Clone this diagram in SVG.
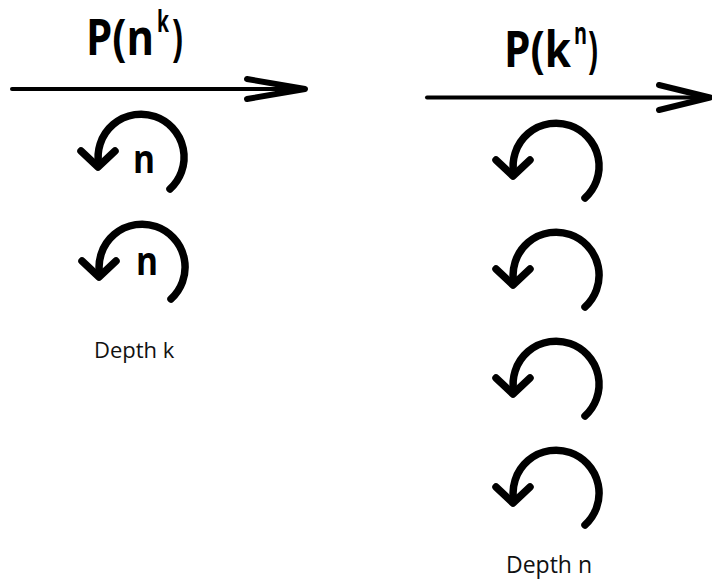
<svg xmlns="http://www.w3.org/2000/svg" width="712" height="581" viewBox="0 0 712 581">
  <style>
    .title { font-family: "Open Sans", "Liberation Sans", sans-serif; font-weight: bold; font-size: 50px; fill: #000; }
    .sup { font-family: "Open Sans", "Liberation Sans", sans-serif; font-weight: bold; font-size: 30px; fill: #000; }
    .count { font-family: "Open Sans", "Liberation Sans", sans-serif; font-weight: bold; font-size: 39px; fill: #000; }
    .caption { font-family: "Open Sans", "Liberation Sans", sans-serif; font-size: 22px; fill: #111; }
    .axis { fill: none; stroke: #000; stroke-width: 4; stroke-linecap: round; }
    .head { fill: none; stroke: #000; stroke-width: 6; stroke-linecap: round; stroke-linejoin: round; }
    .loop { fill: none; stroke: #000; stroke-width: 7.5; stroke-linecap: round; stroke-linejoin: round; }
  </style>
  <defs>
    <!-- counter-clockwise loop with a downward chevron at its tail -->
    <g id="loopIcon">
      <path class="loop" d="M 170 189 A 43 43 0 1 0 98.7 164.5"/>
      <path class="loop" d="M 81 151 L 98 167 L 115 151"/>
    </g>
  </defs>

  <!-- left column: P(n^k) -->
  <g id="title-left">
    <text class="title" x="86" y="55" textLength="68" lengthAdjust="spacingAndGlyphs">P(n</text>
    <text class="sup" x="157" y="32" textLength="12" lengthAdjust="spacingAndGlyphs">k</text>
    <text class="title" x="172" y="55" textLength="11" lengthAdjust="spacingAndGlyphs">)</text>
  </g>
  <g id="loop-left-1">
    <use href="#loopIcon"/>
    <text class="count" x="133" y="173" textLength="22" lengthAdjust="spacingAndGlyphs">n</text>
  </g>
  <g id="loop-left-2">
    <use href="#loopIcon" transform="translate(1,110)"/>
    <text class="count" x="136" y="275" textLength="22" lengthAdjust="spacingAndGlyphs">n</text>
  </g>
  <g id="caption-left">
    <text class="caption" x="94" y="358">Depth k</text>
  </g>

  <!-- right column: P(k^n) -->
  <g id="title-right">
    <text class="title" x="504" y="67" textLength="67" lengthAdjust="spacingAndGlyphs">P(k</text>
    <text class="sup" x="574" y="44" textLength="13" lengthAdjust="spacingAndGlyphs">n</text>
    <text class="title" x="588" y="67" textLength="10" lengthAdjust="spacingAndGlyphs">)</text>
  </g>
  <g id="loop-right-1"><use href="#loopIcon" transform="translate(415,9)"/></g>
  <g id="loop-right-2"><use href="#loopIcon" transform="translate(415,118)"/></g>
  <g id="loop-right-3"><use href="#loopIcon" transform="translate(415,227)"/></g>
  <g id="loop-right-4"><use href="#loopIcon" transform="translate(415,336)"/></g>
  <g id="caption-right">
    <text class="caption" x="506" y="573" style="font-size:23px">Depth n</text>
  </g>

  <!-- time axes -->
  <g id="connectors">
    <line class="axis" x1="12" y1="89" x2="303" y2="89"/>
    <path class="head" d="M 247 79 L 305 89 L 247 99"/>
    <line class="axis" x1="427" y1="97.5" x2="708" y2="97.5"/>
    <path class="head" d="M 659 85 L 710 97.5 L 659 110"/>
  </g>
</svg>
